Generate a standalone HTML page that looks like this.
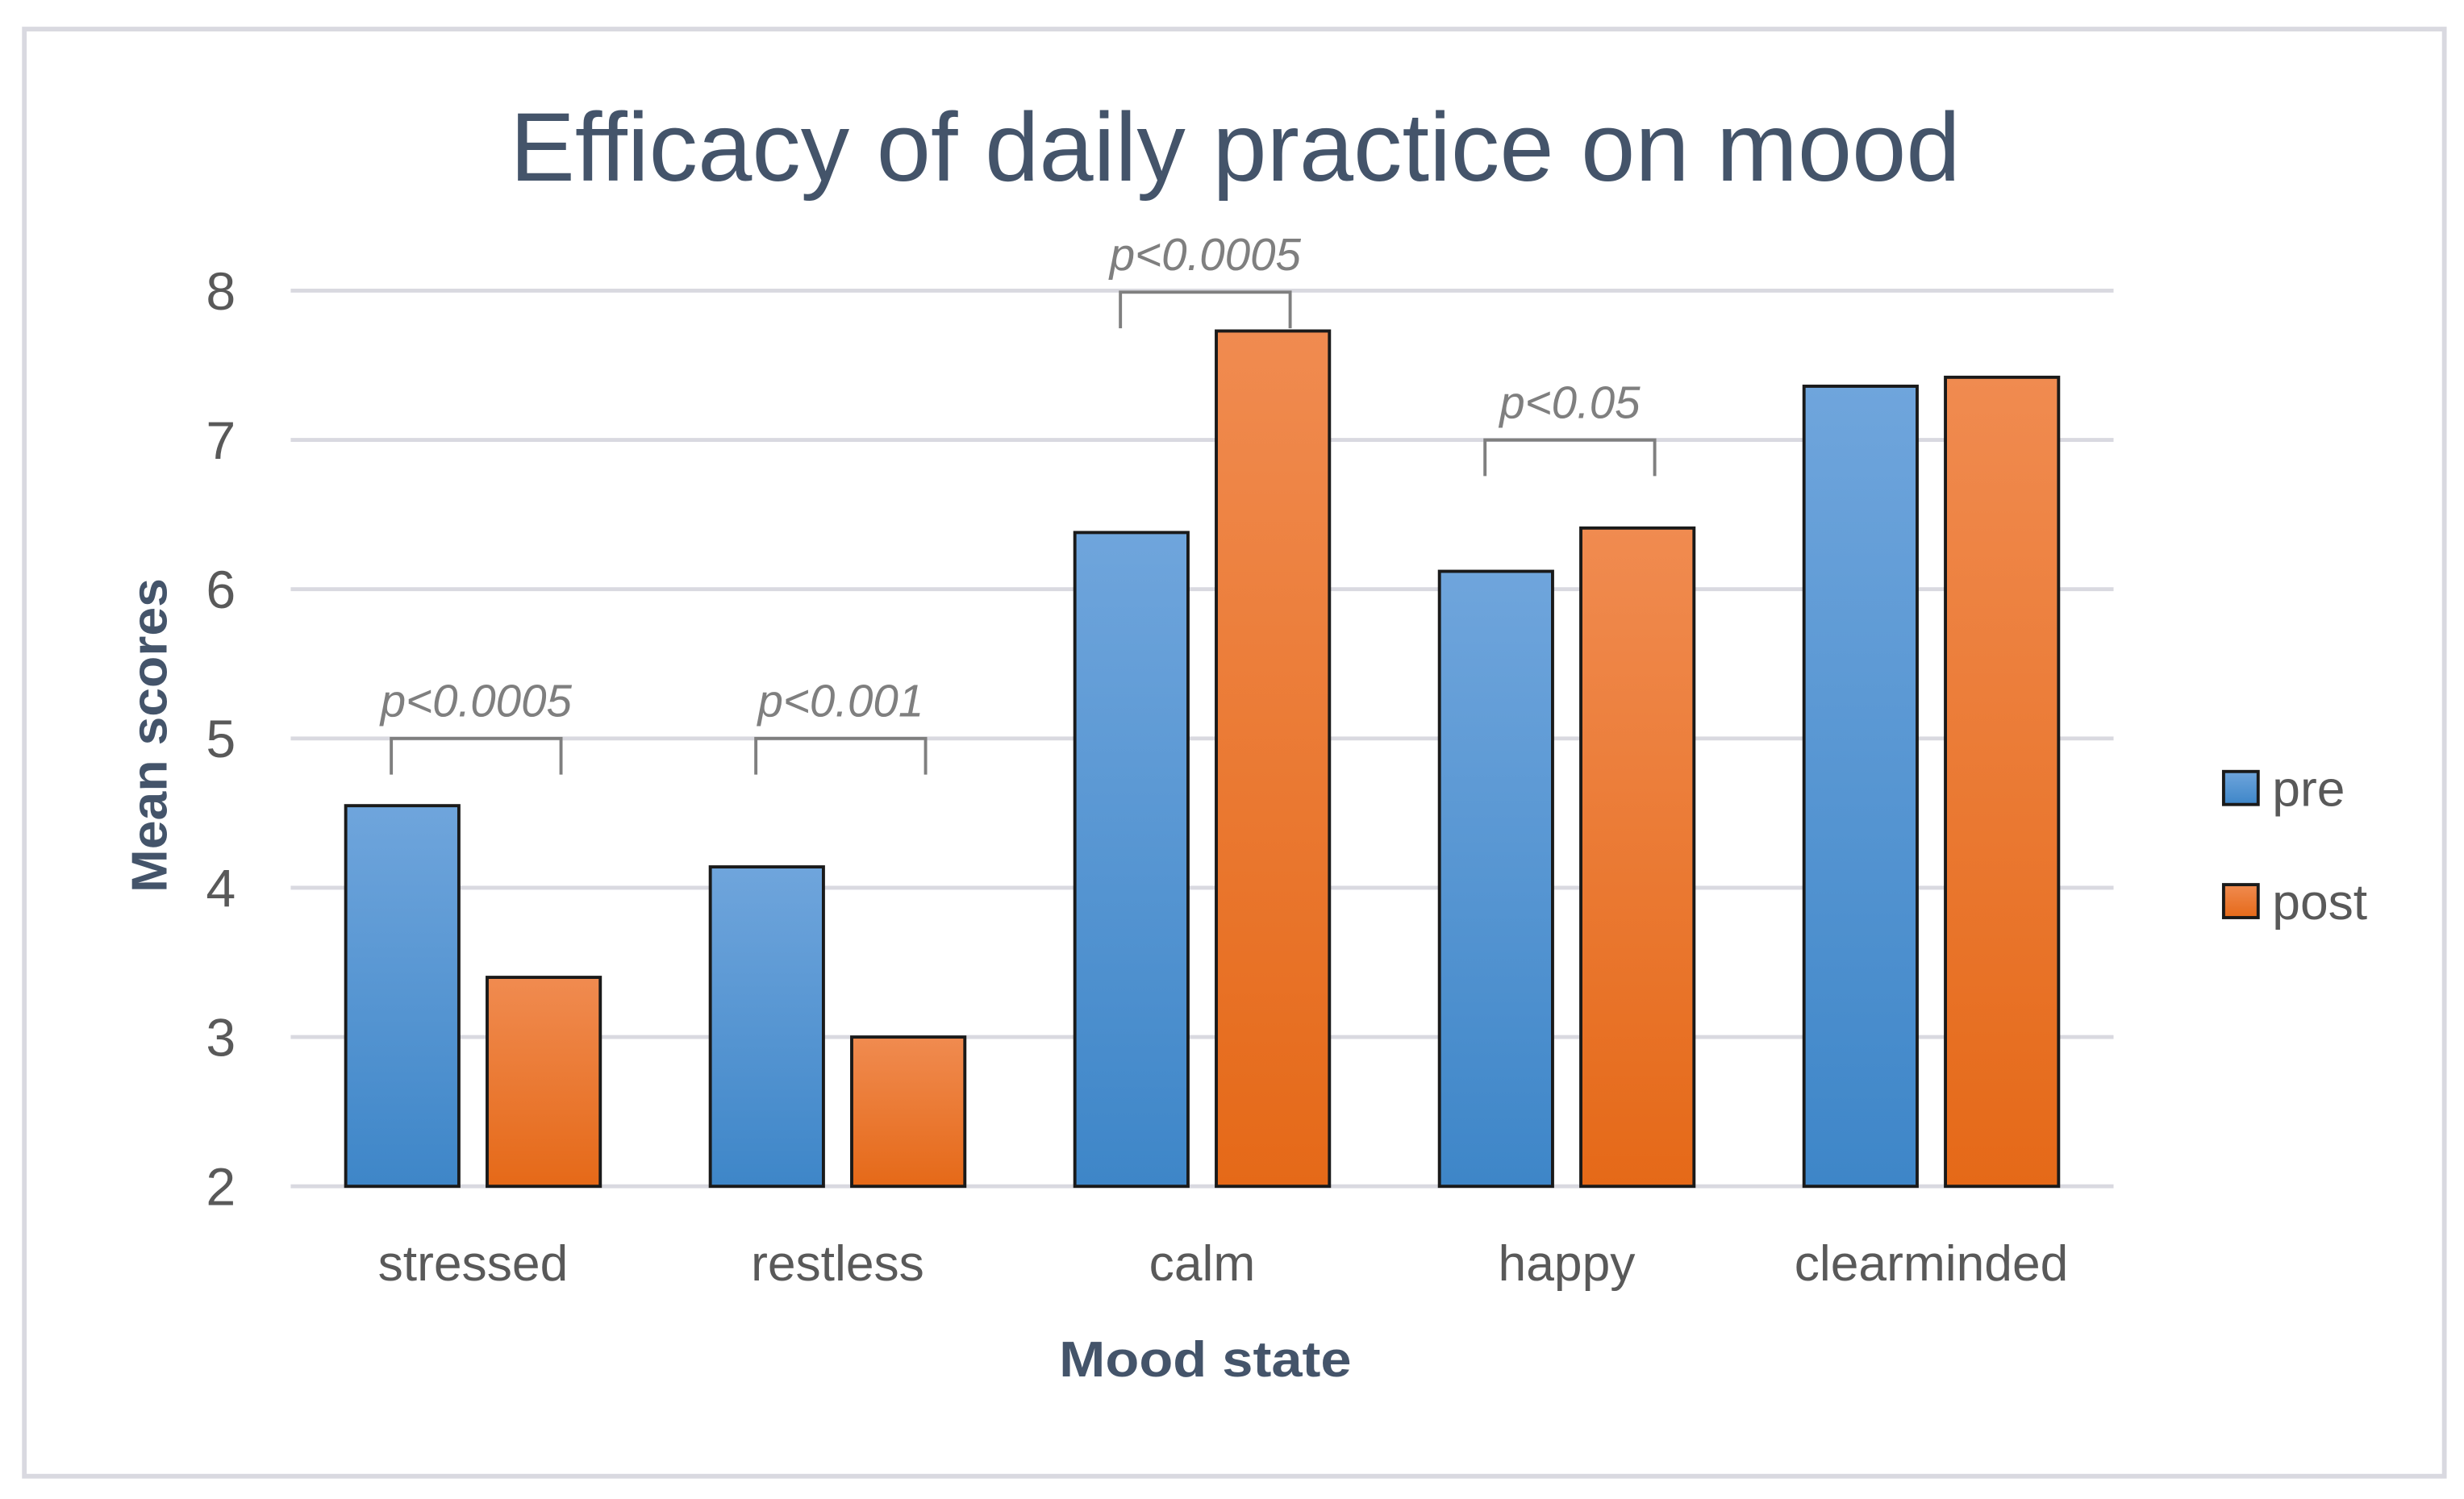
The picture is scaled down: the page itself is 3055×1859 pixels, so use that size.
<!DOCTYPE html>
<html><head><meta charset="utf-8"><style>
html,body{margin:0;padding:0;background:#fff;}
svg{display:block;}
</style></head><body>
<svg id="chart" width="3055" height="1859" viewBox="0 0 1568 954" preserveAspectRatio="none" xmlns="http://www.w3.org/2000/svg" font-family="'Liberation Sans', sans-serif">
<defs>
<linearGradient id="gBlue" x1="0" y1="0" x2="0" y2="1"><stop offset="0" stop-color="#6fa5dc"/><stop offset="1" stop-color="#3e86c8"/></linearGradient>
<linearGradient id="gOrange" x1="0" y1="0" x2="0" y2="1"><stop offset="0" stop-color="#f08b50"/><stop offset="1" stop-color="#e56918"/></linearGradient>
</defs>
<rect x="15.5" y="18.5" width="1540" height="921" fill="#fff" stroke="#d9d9e0" stroke-width="3"/>
<text x="786" y="115" text-anchor="middle" font-size="62" fill="#44546a" textLength="923" lengthAdjust="spacingAndGlyphs">Efficacy of daily practice on mood</text>
<g id="grid"></g>
<g id="bars"></g>
<g id="annot"></g>
<text transform="translate(106,468) rotate(-90)" text-anchor="middle" font-size="32" font-weight="bold" fill="#44546a" textLength="200" lengthAdjust="spacingAndGlyphs">Mean scores</text>
<text x="767" y="876" text-anchor="middle" font-size="32" font-weight="bold" fill="#44546a" textLength="186" lengthAdjust="spacingAndGlyphs">Mood state</text>
<g>
<rect x="1415" y="491" width="22" height="21" fill="url(#gBlue)" stroke="#1a1a1a" stroke-width="2"/>
<text x="1446" y="513" font-size="32" fill="#595959">pre</text>
<rect x="1415" y="563" width="22" height="21" fill="url(#gOrange)" stroke="#1a1a1a" stroke-width="2"/>
<text x="1446" y="585" font-size="32" fill="#595959">post</text>
</g>
</svg>
<script>
const categories = ["stressed","restless","calm","happy","clearminded"];
const preValues = [4.55, 4.14, 6.38, 6.12, 7.36];
const postValues = [3.40, 3.00, 7.73, 6.41, 7.42];
const yTicks = [2,3,4,5,6,7,8];
const sigLabels = ["p<0.0005","p<0.001","p<0.0005","p<0.05",null];
const sigLevels = [5.0, 5.0, 7.99, 7.0, null];

const NS = "http://www.w3.org/2000/svg";
const plotL = 185, plotR = 1345, yMin = 2, yMax = 8, yTop = 185, yBot = 755;
const y = v => yBot - (v - yMin) / (yMax - yMin) * (yBot - yTop);
const band = (plotR - plotL) / categories.length;
const xc = i => plotL + band * (i + 0.5);
const barW = 72, gap = 18;
function mk(tag, attrs, parent){const e=document.createElementNS(NS,tag);for(const k in attrs)e.setAttribute(k,attrs[k]);parent.appendChild(e);return e;}
const grid = document.getElementById('grid'), bars = document.getElementById('bars'), annot = document.getElementById('annot');
yTicks.forEach(t => {
  const l = mk('line',{x1:plotL,x2:plotR,y1:y(t),y2:y(t),stroke:'#d9d9e0','stroke-width':2.5},grid);
  
  
  const tx = mk('text',{x:150,y:y(t)+12,'text-anchor':'end','font-size':34,fill:'#595959'},grid);
  tx.textContent = t;
  
  
});
categories.forEach((c,i) => {
  const cx = xc(i);
  const preX = cx - gap/2 - barW, postX = cx + gap/2;
  const b1 = mk('rect',{x:preX,y:y(preValues[i]),width:barW,height:yBot-y(preValues[i]),fill:'url(#gBlue)',stroke:'#1a1a1a','stroke-width':2},bars);
  
  
  const b2 = mk('rect',{x:postX,y:y(postValues[i]),width:barW,height:yBot-y(postValues[i]),fill:'url(#gOrange)',stroke:'#1a1a1a','stroke-width':2},bars);
  
  
  const lab = mk('text',{x:cx,y:815,'text-anchor':'middle','font-size':32,fill:'#595959'},bars);
  lab.textContent = c;
  
  
  if (sigLabels[i]) {
    const bTop = y(sigLevels[i]), bBot = bTop + 23;
    const x1 = cx - 52, x2 = cx + 56;
    const br = mk('path',{d:`M${x1},${bBot} L${x1},${bTop} L${x2},${bTop} L${x2},${bBot}`,fill:'none',stroke:'#7f7f7f','stroke-width':2},annot);
    
    
    const st = mk('text',{x:(x1+x2)/2,y:bTop-14,'text-anchor':'middle','font-size':29,'font-style':'italic',fill:'#7f7f7f'},annot);
    st.textContent = sigLabels[i];
    
    
  }
});
</script>
</body></html>
